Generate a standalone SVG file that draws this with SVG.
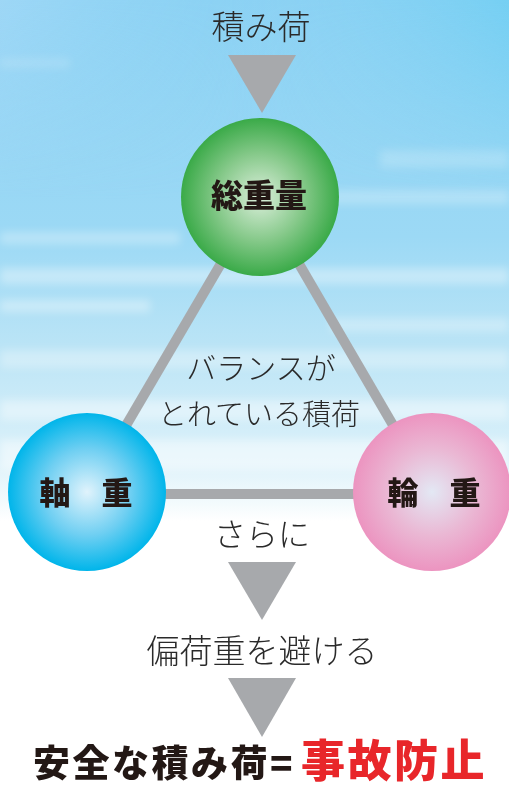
<svg xmlns="http://www.w3.org/2000/svg" width="509" height="789" viewBox="0 0 509 789">
<defs>
<linearGradient id="sky" x1="0" y1="0" x2="0" y2="1">
<stop offset="0" stop-color="#8cd2f4"/>
<stop offset="0.3" stop-color="#9cd9f5"/>
<stop offset="0.45" stop-color="#bde5f6"/>
<stop offset="0.58" stop-color="#dbf1fa"/>
<stop offset="0.64" stop-color="#f4fbfd"/>
<stop offset="0.66" stop-color="#ffffff"/>
<stop offset="1" stop-color="#ffffff"/>
</linearGradient>
<linearGradient id="skyTint" x1="0" y1="0" x2="1" y2="0">
<stop offset="0" stop-color="#b0dcf8" stop-opacity="0.5"/>
<stop offset="0.5" stop-color="#8fd6f4" stop-opacity="0"/>
<stop offset="1" stop-color="#5fcdf2" stop-opacity="0.5"/>
</linearGradient>
<linearGradient id="tintFade" x1="0" y1="0" x2="0" y2="1">
<stop offset="0" stop-color="#fff" stop-opacity="1"/>
<stop offset="1" stop-color="#fff" stop-opacity="0"/>
</linearGradient>
<mask id="tintMask"><rect x="0" y="0" width="509" height="200" fill="url(#tintFade)"/></mask>
<filter id="blur" x="-10%" y="-100%" width="120%" height="300%"><feGaussianBlur stdDeviation="4"/></filter>
<radialGradient id="gGreen" cx="0.5" cy="0.5" r="0.5">
<stop offset="0" stop-color="#dcefdc"/>
<stop offset="0.55" stop-color="#86c98a"/>
<stop offset="1" stop-color="#3aaa48"/>
</radialGradient>
<radialGradient id="gBlue" cx="0.5" cy="0.5" r="0.5">
<stop offset="0" stop-color="#e0f3fc"/>
<stop offset="0.55" stop-color="#6fcff2"/>
<stop offset="1" stop-color="#00b5ea"/>
</radialGradient>
<radialGradient id="gPink" cx="0.5" cy="0.5" r="0.5">
<stop offset="0" stop-color="#e3e8f4"/>
<stop offset="0.55" stop-color="#eab8d4"/>
<stop offset="1" stop-color="#ec94c0"/>
</radialGradient>
<style>
.thin{font-family:"Noto Sans CJK JP","Noto Sans",sans-serif;font-weight:300;fill:#2a2a2a;text-anchor:middle}
.bold{font-family:"Noto Sans CJK JP","Noto Sans",sans-serif;font-weight:900;fill:#231815;text-anchor:middle}
.arrow{fill:#a7a9ac}
.link{stroke:#a7a9ac;stroke-width:10;fill:none}
.streak{fill:#ffffff}
</style>
</defs>
<rect id="background" x="0" y="0" width="509" height="789" fill="url(#sky)"/>
<rect x="0" y="0" width="509" height="200" fill="url(#skyTint)" mask="url(#tintMask)"/>
<g id="clouds" filter="url(#blur)" opacity="0.5">
<rect class="streak" x="0" y="58" width="70" height="10" opacity="0.3"/>
<rect class="streak" x="380" y="150" width="129" height="18" opacity="0.4"/>
<rect class="streak" x="330" y="190" width="179" height="14" opacity="0.5"/>
<rect class="streak" x="0" y="232" width="180" height="12" opacity="0.6"/>
<rect class="streak" x="0" y="268" width="509" height="16" opacity="0.7"/>
<rect class="streak" x="0" y="300" width="150" height="12" opacity="0.7"/>
<rect class="streak" x="330" y="318" width="179" height="14" opacity="0.6"/>
<rect class="streak" x="0" y="350" width="509" height="18" opacity="0.6"/>
<rect class="streak" x="0" y="400" width="509" height="20" opacity="0.8"/>
<rect class="streak" x="0" y="440" width="509" height="30" opacity="0.9"/>
</g>
<g id="connectors">
<line class="link" x1="260" y1="197" x2="87" y2="492"/>
<line class="link" x1="260" y1="197" x2="432" y2="492"/>
<line class="link" x1="87" y1="494" x2="432" y2="494"/>
<polygon class="arrow" points="228,55 296,55 262,113"/>
<polygon class="arrow" points="228,562 296,562 262,620"/>
<polygon class="arrow" points="228,678 296,678 262,737"/>
</g>
<g id="label-tsumini">
<text class="thin" x="261" y="39" font-size="33">積み荷</text>
</g>
<g id="node-soujuuryou">
<circle cx="260" cy="197" r="79" fill="url(#gGreen)"/>
<text class="bold" x="259" y="207" font-size="32">総重量</text>
</g>
<g id="label-balance">
<text class="thin" x="261" y="379" font-size="30">バランスが</text>
<text class="thin" x="259" y="425" font-size="29">とれている積荷</text>
</g>
<g id="node-jikujuu">
<circle cx="87" cy="492" r="79" fill="url(#gBlue)"/>
<text class="bold" x="86" y="504" font-size="31">軸　重</text>
</g>
<g id="node-rinjuu">
<circle cx="432" cy="492" r="79" fill="url(#gPink)"/>
<text class="bold" x="434" y="504" font-size="31">輪　重</text>
</g>
<g id="label-sarani">
<text class="thin" x="262" y="546" font-size="32">さらに</text>
</g>
<g id="label-henkajuu">
<text class="thin" x="262" y="663" font-size="33">偏荷重を避ける</text>
</g>
<g id="label-result">
<text class="bold" x="33" y="777" font-size="37" letter-spacing="2.5" style="text-anchor:start">安全な積み荷=<tspan x="301" font-size="44" letter-spacing="2.5" fill="#e8262a">事故防止</tspan></text>
</g>
</svg>
